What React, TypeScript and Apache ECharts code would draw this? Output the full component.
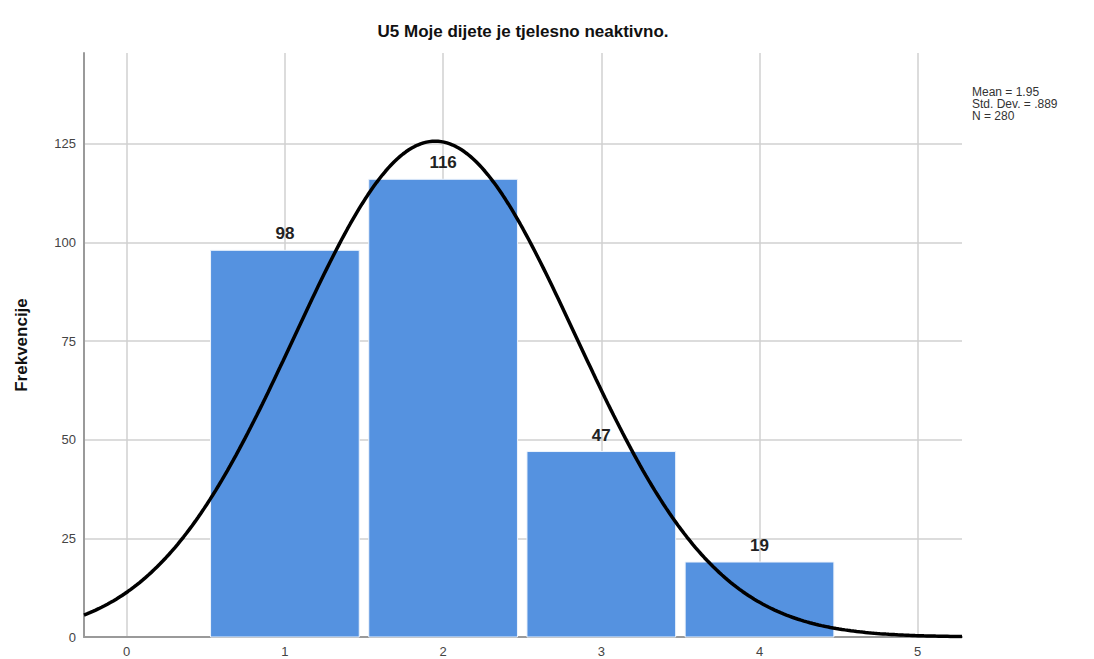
import React, { useEffect, useRef } from "react";
import * as echarts from "echarts";

const TITLE = "U5 Moje dijete je tjelesno neaktivno.";
const Y_NAME = "Frekvencije";
const CATEGORIES = [1, 2, 3, 4];
const FREQUENCIES = [98, 116, 47, 19];
const MEAN = 1.95;
const STD_DEV = 0.889;
const N = 280;
const STATS_LINES = ["Mean = 1.95", "Std. Dev. = .889", "N = 280"];
const X_TICKS = [0, 1, 2, 3, 4, 5];

const X_MIN = -0.27;
const X_MAX = 5.28;
const Y_MAX = 148;
const BAR_W = 0.94;
const FONT = "Liberation Sans, Arial, sans-serif";

function normalCurve(): number[][] {
  const pts: number[][] = [];
  const steps = 300;
  for (let i = 0; i <= steps; i++) {
    const x = X_MIN + ((X_MAX - X_MIN) * i) / steps;
    const z = (x - MEAN) / STD_DEV;
    const y = (N * 1) / (STD_DEV * Math.sqrt(2 * Math.PI)) * Math.exp(-0.5 * z * z);
    pts.push([x, y]);
  }
  return pts;
}

export default function App() {
  const ref = useRef<HTMLDivElement>(null);
  useEffect(() => {
    if (!ref.current) return;
    const chart = echarts.init(ref.current, undefined, { renderer: "svg" });
    const barData = CATEGORIES.map((c, i) => [c, FREQUENCIES[i]]);
    chart.setOption({
      animation: false,
      backgroundColor: "#ffffff",
      title: {
        text: TITLE,
        left: 518,
        top: 18,
        textAlign: "center",
        textStyle: { fontFamily: FONT, fontSize: 17, fontWeight: "bold", color: "#111" },
      },
      graphic: [
        {
          type: "text",
          left: 972,
          top: 86,
          style: {
            text: STATS_LINES.join("\n"),
            fontFamily: FONT,
            fontSize: 12,
            lineHeight: 12,
            fill: "#333",
          },
        },
      ],
      grid: { left: 84, right: 132, top: 53, bottom: 22 },
      xAxis: {
        type: "value",
        min: X_MIN,
        max: X_MAX,
        axisLine: { show: true, onZero: false, lineStyle: { color: "#9a9a9a", width: 2 } },
        axisTick: { show: false },
        axisLabel: { show: false },
        splitLine: { show: false },
      },
      yAxis: {
        type: "value",
        min: 0,
        max: Y_MAX,
        interval: 25,
        name: Y_NAME,
        nameLocation: "middle",
        nameGap: 54,
        nameRotate: 90,
        nameTextStyle: { fontFamily: FONT, fontSize: 17, fontWeight: "bold", color: "#111" },
        axisLine: { show: true, onZero: false, lineStyle: { color: "#9a9a9a", width: 2 } },
        axisTick: { show: false },
        axisLabel: {
          color: "#444",
          fontFamily: FONT,
          fontSize: 13,
          margin: 8,
          showMaxLabel: false,
          formatter: (v: number) => (v % 25 === 0 ? String(v) : ""),
        },
        splitLine: { show: true, showMaxLine: false, lineStyle: { color: "#d0d0d0", width: 1.5 } },
      },
      series: [
        {
          type: "line",
          data: [[0, 0]],
          showSymbol: false,
          symbolSize: 0,
          lineStyle: { width: 0 },
          silent: true,
          z: 0,
          markLine: {
            silent: true,
            z: 0,
            symbol: "none",
            animation: false,
            lineStyle: { color: "#d0d0d0", width: 1.5, type: "solid" },
            label: {
              show: true,
              position: "start",
              distance: 8,
              formatter: (p: any) => String(p.value),
              color: "#444",
              fontFamily: FONT,
              fontSize: 13,
            },
            data: X_TICKS.map((t) => ({ xAxis: t })),
          },
        },
        {
          type: "custom",
          data: barData,
          encode: { x: 0, y: 1 },
          renderItem: (params: any, api: any) => {
            const x = api.value(0);
            const y = api.value(1);
            const p0 = api.coord([x - BAR_W / 2, y]);
            const p1 = api.coord([x + BAR_W / 2, 0]);
            return {
              type: "group",
              children: [
                {
                  type: "rect",
                  shape: { x: p0[0], y: p0[1], width: p1[0] - p0[0], height: p1[1] - p0[1] },
                  style: { fill: "#5592e0", stroke: "#eef4fc", lineWidth: 1 },
                },
                {
                  type: "text",
                  x: (p0[0] + p1[0]) / 2,
                  y: p0[1] - 8,
                  style: {
                    text: String(y),
                    align: "center",
                    verticalAlign: "bottom",
                    fontFamily: FONT,
                    fontSize: 17,
                    fontWeight: "bold",
                    fill: "#222",
                  },
                },
              ],
            };
          },
          z: 3,
        },
        {
          type: "line",
          data: normalCurve(),
          showSymbol: false,
          smooth: false,
          lineStyle: { color: "#000", width: 3.5 },
          z: 4,
        },
      ],
    });
    return () => chart.dispose();
  }, []);
  return <div ref={ref} style={{ width: 1094, height: 659, position: "absolute", left: 0, top: 0 }} />;
}
